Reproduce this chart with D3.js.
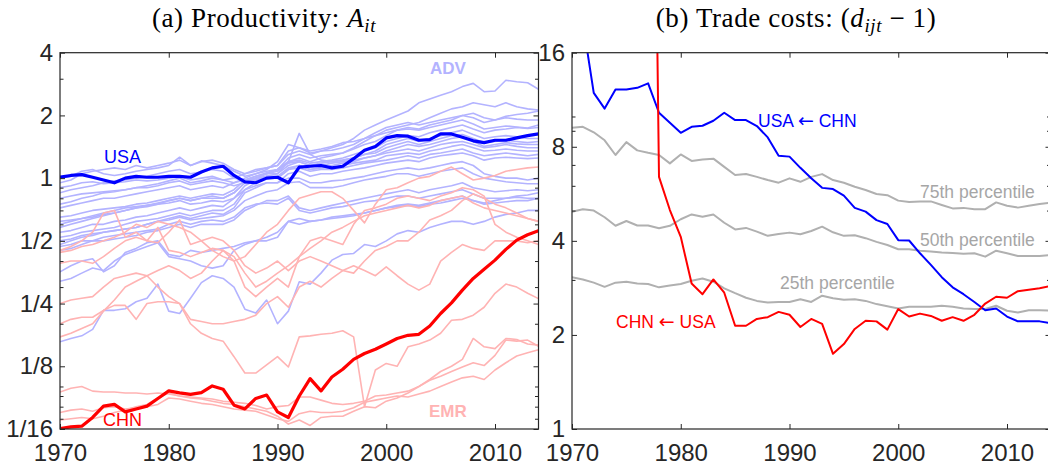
<!DOCTYPE html>
<html><head><meta charset="utf-8">
<script src="https://cdn.jsdelivr.net/npm/d3@7"></script>
<style>body{margin:0;background:#fff}text{font-family:"Liberation Sans",Arial,sans-serif}</style>
</head><body>
<svg id="c" width="1048" height="468"></svg>
<script>
const years = d3.range(1970, 2015);

// ---------- Panel (a): productivity ----------
const usa = [1.01,1.03,1.04,1.01,0.98,0.95,1.0,1.02,1.01,1.01, 1.02,1.02,1.01,1.07,1.12,1.14,1.03,0.96,0.95,1.0, 1.01,0.95,1.13,1.14,1.15,1.12,1.14,1.24,1.36,1.42, 1.56,1.6,1.59,1.52,1.53,1.63,1.63,1.57,1.51,1.48, 1.52,1.52,1.56,1.6,1.63];
const chn = [0.0627,0.064,0.0645,0.071,0.0805,0.082,0.0755,0.078,0.0805,0.0876, 0.0952,0.0932,0.0916,0.0935,0.1006,0.097,0.0813,0.078,0.0876,0.091, 0.0755,0.071,0.09,0.109,0.0952,0.111,0.121,0.135,0.144,0.151, 0.16,0.17,0.176,0.178,0.195,0.224,0.252,0.29,0.33,0.365, 0.404,0.455,0.504,0.535,0.559];

const adv = [
 [0.95,0.98,1.05,1.08,1.1,1.12,1.1,1.15,1.12,1.15, 1.18,1.22,1.15,1.2,1.22,1.18,1.1,1.05,1.08,1.12, 1.15,1.3,1.35,1.3,1.35,1.4,1.45,1.55,1.7,1.8, 1.9,2.0,2.1,2.3,2.4,2.5,2.6,2.75,2.85,2.6, 2.62,2.95,2.9,2.87,2.67],
 [0.85,0.88,0.9,0.92,0.95,0.97,0.98,1.0,1.02,1.05, 1.08,1.1,1.05,1.07,1.1,1.08,1.0,0.98,1.02,1.06, 1.1,1.2,1.25,1.2,1.25,1.28,1.32,1.4,1.5,1.6, 1.7,1.75,1.8,1.85,1.95,2.05,2.15,2.2,2.3,2.25, 2.2,2.3,2.2,2.15,2.12],
 [0.72,0.74,0.76,0.78,0.8,0.8,0.82,0.84,0.86,0.88, 0.9,0.92,0.88,0.9,0.92,0.9,0.95,1.0,1.05,1.08, 1.1,1.25,1.3,1.25,1.28,1.3,1.32,1.38,1.45,1.5, 1.6,1.7,1.75,1.72,1.8,1.85,1.9,2.0,1.95,1.85, 1.9,1.95,1.92,1.9,1.9],
 [0.6,0.62,0.64,0.65,0.67,0.68,0.7,0.72,0.73,0.75, 0.78,0.8,0.78,0.8,0.82,0.8,0.85,0.95,1.0,1.05, 1.1,1.2,1.22,1.18,1.2,1.22,1.25,1.3,1.35,1.4, 1.5,1.55,1.6,1.58,1.65,1.7,1.75,1.8,1.72,1.65, 1.7,1.72,1.75,1.73,1.75],
 [0.65,0.66,0.68,0.7,0.71,0.72,0.73,0.75,0.76,0.78, 0.8,0.82,0.8,0.82,0.84,0.83,0.88,0.98,1.02,1.05, 1.05,1.2,1.64,1.3,1.22,1.2,1.22,1.25,1.3,1.35, 1.45,1.5,1.55,1.5,1.55,1.6,1.65,1.7,1.62,1.55, 1.58,1.6,1.58,1.55,1.55],
 [0.55,0.56,0.58,0.6,0.6,0.62,0.63,0.65,0.66,0.68, 0.7,0.72,0.7,0.72,0.74,0.73,0.8,0.92,0.98,1.02, 1.05,1.15,1.2,1.15,1.18,1.2,1.22,1.25,1.3,1.32, 1.4,1.45,1.5,1.45,1.5,1.55,1.6,1.62,1.55,1.48, 1.5,1.52,1.5,1.48,1.5],
 [0.52,0.53,0.55,0.56,0.57,0.58,0.6,0.62,0.63,0.64, 0.66,0.68,0.66,0.68,0.7,0.7,0.75,0.88,0.95,1.0, 1.0,1.1,1.15,1.1,1.12,1.15,1.18,1.2,1.25,1.28, 1.35,1.4,1.45,1.42,1.45,1.5,1.55,1.58,1.5,1.42, 1.45,1.48,1.46,1.45,1.45],
 [0.9,0.92,0.95,0.96,0.94,0.95,0.96,0.98,0.97,0.98, 1.0,1.02,0.98,1.0,1.02,0.98,0.95,0.98,1.0,1.05, 1.08,1.18,1.2,1.15,1.15,1.18,1.2,1.22,1.25,1.28, 1.32,1.35,1.38,1.35,1.4,1.45,1.48,1.5,1.45,1.4, 1.42,1.45,1.42,1.4,1.4],
 [0.8,0.82,0.84,0.85,0.86,0.87,0.88,0.9,0.9,0.92, 0.95,0.97,0.93,0.95,0.97,0.95,0.92,0.95,0.98,1.02, 1.02,1.12,1.15,1.1,1.12,1.12,1.15,1.18,1.2,1.22, 1.28,1.3,1.32,1.3,1.35,1.38,1.42,1.45,1.4,1.35, 1.36,1.38,1.36,1.35,1.35],
 [0.58,0.6,0.62,0.64,0.66,0.68,0.7,0.72,0.74,0.76, 0.78,0.8,0.78,0.8,0.8,0.8,0.85,0.95,1.0,1.02, 1.0,1.1,1.12,1.08,1.1,1.1,1.12,1.15,1.18,1.2, 1.22,1.25,1.28,1.25,1.3,1.32,1.35,1.38,1.32,1.28, 1.3,1.32,1.3,1.28,1.3],
 [0.48,0.5,0.52,0.53,0.55,0.56,0.57,0.58,0.6,0.62, 0.64,0.66,0.64,0.66,0.68,0.67,0.72,0.85,0.9,0.95, 0.95,1.05,1.08,1.02,1.05,1.05,1.08,1.1,1.12,1.15, 1.18,1.2,1.22,1.2,1.25,1.28,1.3,1.32,1.28,1.22, 1.25,1.26,1.25,1.24,1.25],
 [0.62,0.63,0.64,0.66,0.68,0.7,0.72,0.73,0.74,0.75, 0.76,0.78,0.75,0.76,0.78,0.77,0.8,0.88,0.92,0.95, 0.95,1.0,1.0,0.95,0.95,0.97,0.98,1.0,1.02,1.05, 1.08,1.1,1.12,1.1,1.12,1.15,1.18,1.2,1.15,1.05, 1.02,1.0,1.0,0.98,1.0],
 [0.5,0.51,0.53,0.54,0.55,0.56,0.57,0.58,0.6,0.62, 0.63,0.65,0.63,0.64,0.65,0.66,0.7,0.78,0.82,0.86, 0.88,0.95,0.96,0.9,0.9,0.9,0.92,0.95,0.98,1.0, 1.02,1.05,1.05,1.02,1.05,1.08,1.1,1.12,1.05,1.0, 0.98,0.96,0.95,0.94,0.94],
 [0.45,0.46,0.48,0.5,0.5,0.51,0.52,0.53,0.55,0.56, 0.58,0.6,0.58,0.6,0.6,0.6,0.63,0.7,0.74,0.78, 0.78,0.82,0.72,0.7,0.72,0.74,0.76,0.78,0.8,0.82, 0.84,0.86,0.88,0.85,0.88,0.9,0.92,0.95,0.9,0.88, 0.86,0.87,0.88,0.87,0.88],
 [0.47,0.48,0.5,0.5,0.52,0.53,0.54,0.55,0.56,0.57, 0.6,0.62,0.6,0.62,0.63,0.62,0.65,0.72,0.75,0.76, 0.75,0.8,0.7,0.68,0.7,0.72,0.73,0.75,0.77,0.78, 0.8,0.82,0.82,0.8,0.82,0.84,0.86,0.88,0.84,0.8, 0.8,0.8,0.81,0.8,0.8],
 [0.164,0.17,0.175,0.188,0.232,0.232,0.236,0.255,0.265,0.31, 0.23,0.224,0.265,0.315,0.34,0.33,0.3,0.235,0.225,0.26, 0.2,0.23,0.318,0.31,0.35,0.404,0.43,0.435,0.48,0.47, 0.5,0.54,0.56,0.55,0.58,0.6,0.62,0.62,0.6,0.62, 0.65,0.67,0.68,0.7,0.7],
 [0.355,0.38,0.4,0.41,0.355,0.38,0.44,0.46,0.49,0.5, 0.43,0.42,0.45,0.44,0.45,0.46,0.47,0.49,0.5,0.5, 0.52,0.62,0.64,0.62,0.63,0.65,0.66,0.67,0.68,0.7, 0.72,0.74,0.75,0.74,0.76,0.78,0.8,0.82,0.78,0.76, 0.78,0.8,0.82,0.83,0.85],
 [0.32,0.33,0.35,0.37,0.36,0.4,0.43,0.45,0.47,0.49, 0.42,0.41,0.4,0.38,0.37,0.38,0.45,0.48,0.5,0.52, 0.55,0.62,0.6,0.62,0.63,0.64,0.65,0.66,0.68,0.7, 0.72,0.73,0.74,0.73,0.75,0.76,0.78,0.8,0.78,0.75, 0.76,0.77,0.78,0.78,0.8],
 [0.75,0.77,0.8,0.82,0.85,0.86,0.88,0.9,0.92,0.94, 0.97,1.0,0.95,0.97,1.0,0.98,1.0,1.05,1.1,1.12, 1.15,1.35,1.4,1.32,1.35,1.36,1.4,1.45,1.55,1.6, 1.65,1.7,1.72,1.7,1.75,1.8,1.85,1.9,1.82,1.72, 1.75,1.78,1.76,1.74,1.8],
 [1.0,1.02,1.08,1.1,1.05,1.03,1.05,1.08,1.1,1.12, 1.15,1.26,1.15,1.21,1.18,1.15,1.08,1.02,1.05,1.1, 1.2,1.45,1.4,1.35,1.38,1.42,1.48,1.5,1.55,1.65, 1.75,1.8,1.85,1.8,1.85,1.9,1.95,2.0,2.05,1.95, 1.9,1.98,2.02,2.05,2.1]
];
const emr = [
 [0.45,0.47,0.5,0.55,0.68,0.7,0.52,0.55,0.5,0.49, 0.55,0.63,0.48,0.5,0.45,0.42,0.4,0.42,0.48,0.55, 0.6,0.7,0.8,0.83,0.86,0.86,0.8,0.7,0.61,0.75, 0.88,0.9,0.95,1.0,1.02,1.08,1.13,1.05,0.98,1.0, 1.03,1.08,1.1,1.12,1.13],
 [0.39,0.4,0.4,0.39,0.42,0.46,0.5,0.52,0.5,0.58, 0.45,0.44,0.42,0.44,0.46,0.45,0.4,0.3,0.27,0.3, 0.33,0.3,0.42,0.5,0.52,0.5,0.48,0.6,0.7,0.72, 0.75,0.8,0.82,0.8,0.78,0.82,0.85,0.9,0.88,0.82, 0.6,0.55,0.52,0.5,0.48],
 [0.25,0.26,0.265,0.27,0.3,0.33,0.34,0.35,0.34,0.3, 0.27,0.25,0.2,0.18,0.17,0.165,0.139,0.116,0.116,0.127, 0.139,0.124,0.173,0.175,0.178,0.18,0.185,0.173,0.08,0.12, 0.129,0.125,0.155,0.16,0.167,0.18,0.208,0.21,0.22,0.24, 0.28,0.31,0.3,0.28,0.264],
 [0.2,0.21,0.215,0.215,0.232,0.245,0.245,0.21,0.25,0.255, 0.255,0.25,0.21,0.205,0.2,0.2,0.205,0.21,0.22,0.25, 0.27,0.24,0.3,0.32,0.3,0.33,0.36,0.38,0.36,0.34, 0.375,0.34,0.31,0.29,0.31,0.4,0.44,0.48,0.46,0.45, 0.5,0.5,0.5,0.49,0.5],
 [0.173,0.18,0.19,0.2,0.23,0.26,0.3,0.32,0.34,0.36, 0.38,0.36,0.33,0.35,0.4,0.45,0.42,0.35,0.3,0.32, 0.35,0.38,0.42,0.46,0.5,0.55,0.58,0.62,0.66,0.68, 0.7,0.72,0.74,0.72,0.74,0.78,0.8,0.82,0.76,0.72, 0.7,0.68,0.66,0.64,0.62],
 [0.094,0.098,0.1,0.095,0.094,0.094,0.093,0.093,0.092,0.093, 0.092,0.09,0.089,0.088,0.087,0.085,0.084,0.083,0.081,0.078, 0.08,0.081,0.089,0.089,0.086,0.083,0.082,0.083,0.085,0.09, 0.091,0.093,0.095,0.1,0.107,0.112,0.118,0.124,0.13,0.126, 0.141,0.167,0.165,0.167,0.156],
 [0.069,0.07,0.071,0.07,0.072,0.075,0.077,0.08,0.082,0.088, 0.093,0.09,0.088,0.087,0.085,0.083,0.082,0.08,0.078,0.076, 0.072,0.066,0.069,0.065,0.071,0.072,0.072,0.076,0.08,0.079, 0.085,0.088,0.093,0.1,0.108,0.118,0.125,0.135,0.17,0.155, 0.152,0.17,0.168,0.16,0.158],
 [0.075,0.077,0.078,0.076,0.079,0.08,0.078,0.079,0.08,0.082, 0.088,0.087,0.085,0.083,0.082,0.08,0.078,0.077,0.076,0.073, 0.07,0.068,0.074,0.076,0.075,0.075,0.076,0.079,0.084,0.086, 0.088,0.09,0.089,0.092,0.095,0.1,0.105,0.11,0.112,0.108, 0.12,0.13,0.14,0.145,0.15],
 [0.44,0.45,0.47,0.48,0.5,0.52,0.55,0.6,0.58,0.62, 0.6,0.58,0.55,0.5,0.52,0.5,0.45,0.38,0.35,0.37, 0.4,0.36,0.4,0.42,0.4,0.38,0.36,0.35,0.4,0.45, 0.47,0.5,0.5,0.55,0.63,0.66,0.7,0.78,0.84,0.8, 0.75,0.72,0.68,0.64,0.62]
];
const leftMajor = [1/16, 1/8, 1/4, 1/2, 1, 2, 4];
const leftMajorLabels = ["1/16", "1/8", "1/4", "1/2", "1", "2", "4"];
const leftMinor = [0.07, 0.08, 0.09, 0.1, 0.2, 0.3, 0.4, 0.6, 0.7, 0.8, 0.9, 3];

// ---------- Panel (b): trade costs ----------
const usaFromChn = [30,20,11.9,10.6,12.2,12.2,12.35,12.76,10.28,9.55, 8.87,9.27,9.34,9.69,10.28,9.74,9.74,9.32,8.57,7.49, 7.44,6.85,6.34,5.91,5.86,5.58,5.1,4.96,4.66,4.53, 4.02,4.01,3.65,3.35,3.06,2.84,2.7,2.55,2.4,2.43, 2.29,2.21,2.21,2.21,2.18];
const chnFromUsa = [3500,3500,3500,3500,3500,3500,3500,3500,6.41,5.02, 4.12,2.92,2.7,3.01,2.73,2.14,2.14,2.25,2.28,2.37, 2.32,2.12,2.25,2.17,1.74,1.87,2.09,2.22,2.21,2.08, 2.42,2.29,2.34,2.3,2.22,2.28,2.22,2.32,2.52,2.65, 2.63,2.76,2.79,2.82,2.87];
const p75 = [9.2,9.27,8.9,8.39,7.53,8.28,7.79,7.65,7.53,7.08, 7.56,7.21,7.29,7.33,6.9,6.5,6.55,6.41,6.26,6.14, 6.34,6.18,6.41,6.54,6.26,6.14,5.96,5.82,5.65,5.6, 5.38,5.33,5.35,5.35,5.21,5.08,5.1,5.05,5.05,5.31, 5.18,5.11,5.18,5.25,5.3];
const p50 = [4.96,5.05,5.0,4.76,4.47,4.63,4.48,4.48,4.39,4.47, 4.69,4.86,4.78,4.86,4.57,4.35,4.4,4.28,4.15,4.21, 4.25,4.2,4.3,4.44,4.26,4.15,4.17,4.08,3.97,3.88, 3.76,3.76,3.72,3.7,3.67,3.66,3.64,3.65,3.56,3.72, 3.65,3.58,3.58,3.58,3.6];
const p25 = [3.06,3.01,2.94,2.85,2.94,2.96,2.92,2.91,2.84,2.88, 2.91,2.98,3.03,2.96,2.82,2.72,2.63,2.57,2.54,2.55, 2.55,2.6,2.55,2.67,2.62,2.59,2.6,2.57,2.51,2.47, 2.43,2.46,2.46,2.46,2.48,2.46,2.43,2.42,2.42,2.48, 2.39,2.36,2.4,2.4,2.39];
const rightMajor = [1, 2, 4, 8, 16];
const rightMinor = [3, 5, 6, 7, 9, 10];
const xTicks = [1970, 1980, 1990, 2000, 2010];

// ---------- drawing ----------
const svg = d3.select("#c");
const AX = "#262626";
const yTop = 52.7, yBot = 429;
const SERIF = "'Liberation Serif', 'Times New Roman', serif";

function panel(x0, x1, yDomain, id) {
  const x = d3.scaleLinear().domain([1970, 2014]).range([x0, x1]);
  const y = d3.scaleLog().base(2).domain(yDomain).range([yBot, yTop]);
  svg.append("clipPath").attr("id", id).append("rect")
    .attr("x", x0).attr("y", yTop).attr("width", x1 - x0).attr("height", yBot - yTop);
  const g = svg.append("g");
  const lines = g.append("g").attr("clip-path", `url(#${id})`);
  return {x, y, g, lines};
}

function axes(p, majors, majorLabels, minors) {
  const {x, y, g} = p;
  const [x0, x1] = x.range();
  const fmt = d => majorLabels[majors.indexOf(d)];
  const styleAx = s => { s.select(".domain").remove(); s.selectAll("line").attr("stroke", AX); };
  g.append("g").attr("transform", `translate(${x0},0)`)
    .call(d3.axisLeft(y).tickValues(majors).tickFormat(fmt).tickSize(-5).tickPadding(7))
    .call(styleAx)
    .selectAll("text").attr("fill", AX).style("font-size", "24px").style("font-family", "Liberation Sans, Arial, sans-serif");
  g.append("g").attr("transform", `translate(${x0},0)`)
    .call(d3.axisLeft(y).tickValues(minors).tickFormat("").tickSize(-3.5)).call(styleAx);
  g.append("g").attr("transform", `translate(${x1},0)`)
    .call(d3.axisRight(y).tickValues(majors).tickFormat("").tickSize(-5)).call(styleAx);
  g.append("g").attr("transform", `translate(${x1},0)`)
    .call(d3.axisRight(y).tickValues(minors).tickFormat("").tickSize(-3.5)).call(styleAx);
  g.append("g").attr("transform", `translate(0,${yBot})`)
    .call(d3.axisBottom(x).tickValues(xTicks).tickFormat(d3.format("d")).tickSize(-5).tickPadding(15))
    .call(styleAx)
    .selectAll("text").attr("fill", AX).style("font-size", "24px").style("font-family", "Liberation Sans, Arial, sans-serif");
  g.append("g").attr("transform", `translate(0,${yTop})`)
    .call(d3.axisTop(x).tickValues(xTicks).tickFormat("").tickSize(-5)).call(styleAx);
  g.append("rect").attr("x", x0).attr("y", yTop).attr("width", x1 - x0).attr("height", yBot - yTop)
    .attr("fill", "none").attr("stroke", AX).attr("stroke-width", 1.2);
}

function drawLine(p, vals, color, width) {
  const line = d3.line().x((d, i) => p.x(years[i])).y(d => p.y(d));
  p.lines.append("path").datum(vals).attr("d", line)
    .attr("fill", "none").attr("stroke", color).attr("stroke-width", width)
    .attr("stroke-linejoin", "round").attr("stroke-linecap", "round");
}

function label(parts, x, y, color, opts = {}) {
  const t = svg.append("text").attr("x", x).attr("y", y).attr("fill", color)
    .style("font-size", (opts.size || 17.5) + "px").style("font-weight", opts.bold ? "bold" : "normal")
    .style("font-family", "Liberation Sans, Arial, sans-serif");
  (Array.isArray(parts) ? parts : [parts]).forEach(p => {
    const ts = t.append("tspan").text(typeof p === "string" ? p : p.t);
    if (p.arrow) ts.style("font-family", "DejaVu Sans, sans-serif").style("font-size", "19px");
  });
  return t;
}

// Panel a
const pa = panel(60, 538.5, [1/16, 4], "clipA");
adv.forEach(s => drawLine(pa, s, "#b3b3ff", 1.6));
emr.forEach(s => drawLine(pa, s, "#ffb3b3", 1.6));
drawLine(pa, usa, "#0000ff", 3.2);
drawLine(pa, chn, "#ff0000", 3.2);
axes(pa, leftMajor, leftMajorLabels, leftMinor);

// Panel b
const pb = panel(572, 1050.5, [1, 16], "clipB");
drawLine(pb, p75, "#b0b0b0", 2);
drawLine(pb, p50, "#b0b0b0", 2);
drawLine(pb, p25, "#b0b0b0", 2);
drawLine(pb, usaFromChn, "#0000ff", 2);
drawLine(pb, chnFromUsa, "#ff0000", 2);
axes(pb, rightMajor, rightMajor.map(String), rightMinor);

// labels
label("USA", 104, 163, "#0000ff", {size: 18});
label("CHN", 103, 426, "#ff0000", {size: 18});
label("ADV", 430, 74, "#b3b3ff", {size: 17, bold: true});
label("EMR", 429, 417, "#ffb3b3", {size: 17, bold: true});
label(["USA ", {t: "\u2190", arrow: true}, " CHN"], 758, 127, "#0000ff");
label(["CHN ", {t: "\u2190", arrow: true}, " USA"], 616, 328, "#ff0000");
label("75th percentile", 920, 198, "#a6a6a6");
label("50th percentile", 920, 246, "#a6a6a6");
label("25th percentile", 780, 289, "#a6a6a6");

// titles
function title(x, parts) {
  const t = svg.append("text").attr("x", x).attr("y", 27).attr("text-anchor", "middle")
    .style("font-family", SERIF).style("font-size", "27px")
    .style("letter-spacing", "0.6px").attr("fill", "#000");
  parts.forEach(p => {
    const ts = t.append("tspan").text(p.t).style("font-family", SERIF);
    if (p.i) ts.style("font-style", "italic");
    if (p.sub) ts.attr("baseline-shift", "-28%").style("font-size", "19px");
  });
}
title(264, [{t: "(a) Productivity:  "}, {t: "A", i: true}, {t: "it", i: true, sub: true}]);
title(796, [{t: "(b) Trade costs:  ("}, {t: "d", i: true}, {t: "ijt", i: true, sub: true}, {t: " \u2212 1)"}]);
</script>
</body></html>
